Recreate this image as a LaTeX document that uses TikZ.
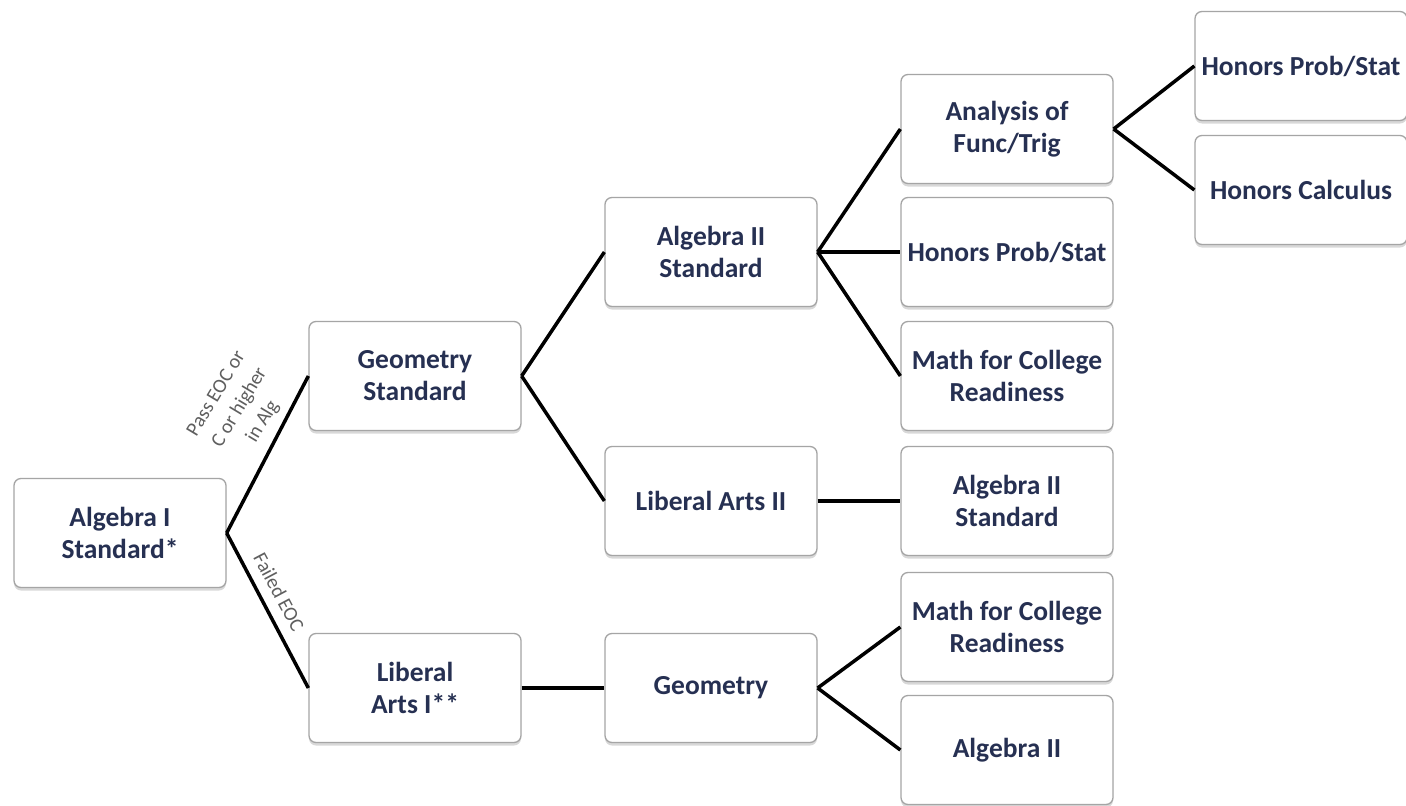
\documentclass[tikz,border=0pt]{standalone}
\usepackage{fontspec}
\setmainfont{Carlito}
\usetikzlibrary{shadows}
\definecolor{boxtext}{RGB}{38,48,82}
\definecolor{boxline}{RGB}{165,165,165}
\definecolor{labeltext}{RGB}{95,95,95}
\tikzset{
  x=1pt, y=-1pt,
  coursebox/.style={draw=boxline, line width=1.3pt, rounded corners=7pt, fill=white,
    minimum width=212pt, minimum height=109pt, align=center, text=boxtext,
    font=\fontsize{27.5}{32}\selectfont\bfseries,
    drop shadow={shadow xshift=0pt, shadow yshift=-3pt, opacity=0.3, fill=gray}},
  conn/.style={line width=3.5pt, black},
  edgelabel/.style={font=\fontsize{20}{27}\selectfont, text=labeltext, align=center, inner sep=0pt}
}
\begin{document}
\begin{tikzpicture}
\useasboundingbox[fill=white] (0,0) rectangle (1406,806);
\node[coursebox] (alg1) at (120,533) {Algebra I\\Standard*};
\node[coursebox] (geoS) at (415,376) {Geometry\\Standard};
\node[coursebox] (lib1) at (415,688) {Liberal\\Arts I**};
\node[coursebox] (alg2S) at (711,252) {Algebra II\\Standard};
\node[coursebox] (lib2) at (711,501) {Liberal Arts II};
\node[coursebox] (geo) at (711,688) {Geometry};
\node[coursebox] (ana) at (1007,129) {Analysis of\\Func/Trig};
\node[coursebox] (hps) at (1007,252) {Honors Prob/Stat};
\node[coursebox] (mcr1) at (1007,376) {Math for College\\Readiness};
\node[coursebox] (alg2Sb) at (1007,501) {Algebra II\\Standard};
\node[coursebox] (mcr2) at (1007,627) {Math for College\\Readiness};
\node[coursebox] (alg2) at (1007,750) {Algebra II};
\node[coursebox] (hps2) at (1301,66) {Honors Prob/Stat};
\node[coursebox] (hcal) at (1301,190) {Honors Calculus};

\draw[conn] (alg1.east) -- (geoS.west);
\draw[conn] (alg1.east) -- (lib1.west);
\draw[conn] (geoS.east) -- (alg2S.west);
\draw[conn] (geoS.east) -- (lib2.west);
\draw[conn] (alg2S.east) -- (ana.west);
\draw[conn] (alg2S.east) -- (hps.west);
\draw[conn] (alg2S.east) -- (mcr1.west);
\draw[conn] (lib2.east) -- (alg2Sb.west);
\draw[conn] (lib1.east) -- (geo.west);
\draw[conn] (geo.east) -- (mcr2.west);
\draw[conn] (geo.east) -- (alg2.west);
\draw[conn] (ana.east) -- (hps2.west);
\draw[conn] (ana.east) -- (hcal.west);

\node[edgelabel, rotate=59] (passlbl) at (240,408) {Pass EOC or\\C or higher\\in Alg};
\node[edgelabel, rotate=-62] (faillbl) at (279,592) {Failed EOC};
\end{tikzpicture}
\end{document}
